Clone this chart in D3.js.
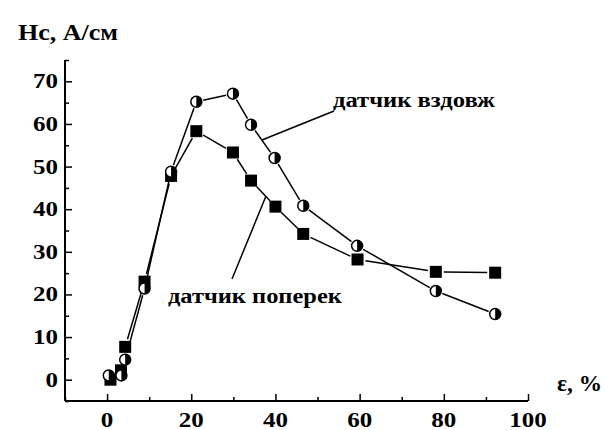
<!DOCTYPE html>
<html>
<head>
<meta charset="utf-8">
<script src="https://cdn.jsdelivr.net/npm/d3@7"></script>
<style>
  html, body { margin: 0; padding: 0; background: #fff; }
  svg { display: block; }
  text { font-family: "Liberation Serif", "Times New Roman", Times, serif; font-weight: 700; fill: #000; }
</style>
</head>
<body>
<svg id="chart" width="606" height="430"></svg>
<script>
// Strain ε, % and coercive force Hc, A/cm for two sensor orientations
const strainAlong = [0.4, 3.4, 4.3, 8.9, 15.2, 21.2, 29.9, 34.2, 39.8, 46.6, 59.4, 78.1, 92.2];
const hcAlong     = [1.0, 1.0, 4.7, 21.4, 48.8, 65.2, 67.1, 59.8, 52.0, 40.8, 31.4, 20.8, 15.4];

const strainAcross = [0.8, 3.3, 4.3, 8.9, 15.2, 21.2, 29.9, 34.2, 40.0, 46.6, 59.5, 78.1, 92.2];
const hcAcross     = [0.0, 2.2, 7.7, 23.0, 47.8, 58.3, 53.3, 46.7, 40.6, 34.2, 28.2, 25.3, 25.1];

const xTicks = [0, 20, 40, 60, 80, 100];
const yTicks = [0, 10, 20, 30, 40, 50, 60, 70];

const labelAlong = "датчик вздовж";
const labelAcross = "датчик поперек";
const yTitle = "Hc, А/см";
const xTitle = "ε, %";

const svg = d3.select("#chart");
const margin = { left: 65, right: 78, top: 60, bottom: 29 };
const W = 606, H = 430;

const x = d3.scaleLinear().domain([-10, 100]).range([margin.left, W - margin.right]);
const y = d3.scaleLinear().domain([-5, 75]).range([H - margin.bottom, margin.top]);

// text fitted to a given width (bold serif, stretched horizontally as needed)
function label(parent, px, py, str, size, width, anchor) {
  const t = parent.append("text")
    .attr("text-anchor", anchor || "start")
    .attr("font-size", size)
    .text(str);
  const w = t.node().getComputedTextLength();
  const sx = width ? width / w : 1;
  t.attr("transform", `translate(${px},${py}) scale(${sx},1)`);
  return t;
}

// axes with inward ticks
const xAxis = d3.axisBottom(x).tickValues(d3.range(-10, 101, 10)).tickSize(-7).tickFormat("");
const yAxis = d3.axisLeft(y).tickValues(d3.range(-5, 76, 5)).tickSize(-7).tickFormat("");

const gx = svg.append("g").attr("transform", `translate(0,${y(-5)})`).call(xAxis);
const gy = svg.append("g").attr("transform", `translate(${x(-10)},0)`).call(yAxis);
[gx, gy].forEach(g => {
  g.select(".domain").attr("stroke", "#000").attr("stroke-width", 2);
  g.selectAll(".tick line").attr("stroke", "#000").attr("stroke-width", 1.5);
});
// minor ticks shorter
gx.selectAll(".tick").filter(d => d % 20 !== 0).select("line").attr("y2", -4);
gy.selectAll(".tick").filter(d => d % 10 !== 0).select("line").attr("x2", 4);
// plain spines
gx.select(".domain").attr("d", `M${x(-10)},0H${x(100)}`);
gy.select(".domain").attr("d", `M0,${y(-5)}V${y(75)}`);

// tick labels
const gxl = svg.append("g");
xTicks.forEach(d => label(gxl, x(d), y(-5) + 26, d, 20, String(d).length * 12.5, "middle"));
const gyl = svg.append("g");
yTicks.forEach(d => label(gyl, x(-10) - 7, y(d) + 7, d, 20, String(d).length * 12.5, "end"));

// axis titles
label(svg, 18, 40, yTitle, 23, 100);
label(svg, 557, 391, xTitle, 23, 45);

const along = strainAlong.map((s, i) => [s, hcAlong[i]]);
const across = strainAcross.map((s, i) => [s, hcAcross[i]]);

// connecting lines, drawn with gaps around markers
function gappedSegments(pts, gap) {
  const segs = [];
  for (let i = 0; i < pts.length - 1; i++) {
    const x1 = x(pts[i][0]), y1 = y(pts[i][1]);
    const x2 = x(pts[i + 1][0]), y2 = y(pts[i + 1][1]);
    const len = Math.hypot(x2 - x1, y2 - y1);
    if (len <= 2 * gap) continue;
    const ux = (x2 - x1) / len, uy = (y2 - y1) / len;
    segs.push([x1 + ux * gap, y1 + uy * gap, x2 - ux * gap, y2 - uy * gap]);
  }
  return segs;
}
[[across, 8], [along, 7]].forEach(([pts, gap]) => {
  svg.append("g").selectAll("line").data(gappedSegments(pts, gap)).join("line")
    .attr("x1", d => d[0]).attr("y1", d => d[1]).attr("x2", d => d[2]).attr("y2", d => d[3])
    .attr("stroke", "#000").attr("stroke-width", 1.5);
});

// square markers (across)
svg.append("g").selectAll("rect").data(across).join("rect")
  .attr("x", d => x(d[0]) - 6).attr("y", d => y(d[1]) - 6)
  .attr("width", 12).attr("height", 12).attr("fill", "#000");

// half-filled circles (along): white left, black right
const circ = svg.append("g").selectAll("g").data(along).join("g")
  .attr("transform", d => `translate(${x(d[0])},${y(d[1])})`);
circ.append("circle").attr("r", 5.5).attr("fill", "#fff").attr("stroke", "#000").attr("stroke-width", 1.5);
circ.append("path").attr("d", "M0,-5.5A5.5,5.5 0 0 1 0,5.5Z").attr("fill", "#000");

// series labels with leader lines
label(svg, 333, 107, labelAlong, 22, 162);
svg.append("line").attr("x1", 262).attr("y1", 140).attr("x2", 334).attr("y2", 111)
  .attr("stroke", "#000").attr("stroke-width", 1.5);
label(svg, 168, 303, labelAcross, 22, 174);
svg.append("line").attr("x1", 232).attr("y1", 279).attr("x2", 266).attr("y2", 196)
  .attr("stroke", "#000").attr("stroke-width", 1.5);
</script>
</body>
</html>
